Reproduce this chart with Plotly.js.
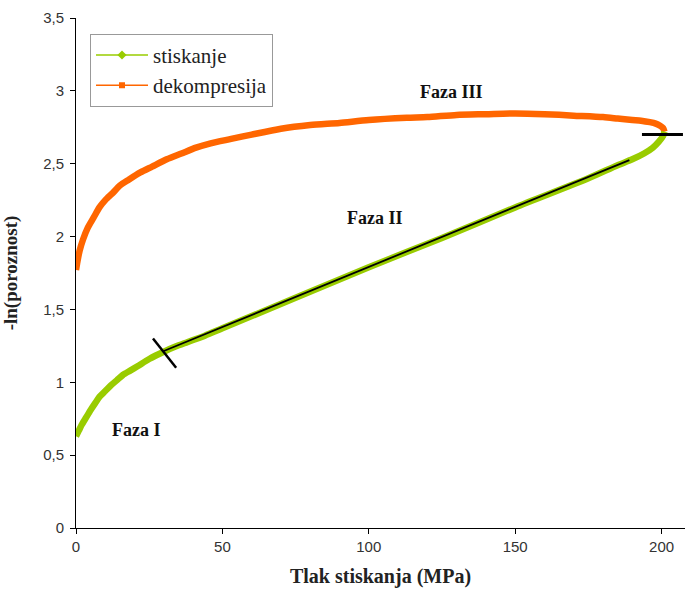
<!DOCTYPE html>
<html>
<head>
<meta charset="utf-8">
<script src="https://cdn.plot.ly/plotly-3.0.1.min.js"></script>
<style>html,body{margin:0;padding:0;background:#fff;}#chart{width:685px;height:590px;}</style>
</head>
<body>
<div id="chart"></div>
<script>
// Compression (stiskanje) curve
var compX = [0, 1, 2, 3.5, 5, 6.5, 8, 10, 12, 14, 16, 18.5, 21, 25, 30, 34, 38, 44, 50, 75, 100, 125, 150, 175, 185, 190, 194, 197, 199, 200.5, 201];
var compY = [0.63, 0.67, 0.71, 0.76, 0.81, 0.855, 0.90, 0.94, 0.98, 1.015, 1.05, 1.08, 1.11, 1.16, 1.21, 1.245, 1.275, 1.32, 1.37, 1.58, 1.79, 1.99, 2.20, 2.40, 2.49, 2.53, 2.57, 2.61, 2.65, 2.69, 2.72];
// Decompression (dekompresija) curve
var decX = [201, 200.5, 199.5, 198, 196, 193, 190, 185, 180, 170, 160, 150, 140, 130, 120, 113, 100, 90, 80, 70, 60, 53, 46, 41, 36, 31, 26, 22, 18, 15, 12.6, 10, 8, 6, 4, 2.4, 1.2, 0.5, 0];
var decY = [2.72, 2.745, 2.76, 2.775, 2.785, 2.795, 2.80, 2.81, 2.82, 2.83, 2.84, 2.845, 2.84, 2.835, 2.82, 2.815, 2.80, 2.78, 2.765, 2.74, 2.70, 2.67, 2.64, 2.61, 2.57, 2.53, 2.48, 2.44, 2.39, 2.35, 2.30, 2.25, 2.20, 2.13, 2.06, 1.98, 1.90, 1.83, 1.77];
// Linear fit of phase II
var fitX = [30, 189];
var fitY = [1.215, 2.525];
// Phase boundary marks
var markIX = [26.3, 34.2];
var markIY = [1.30, 1.10];
var markIIX = [193.3, 207.3];
var markIIY = [2.70, 2.70];
// Phase labels
var phaseText = ['Faza I', 'Faza II', 'Faza III'];
var phaseX = [20.8, 102, 128.4];
var phaseY = [0.67, 2.13, 2.99];
var seriesNames = ['stiskanje', 'dekompresija'];
var xTicks = [0, 50, 100, 150, 200];
var yTicks = [0, 0.5, 1, 1.5, 2, 2.5, 3, 3.5];

var green = '#99cc00', orange = '#ff6600';
var serif = '"Liberation Serif", "Times New Roman", Times, serif';
var sans = '"Liberation Sans", Arial, sans-serif';
var traces = [
  {x: decX, y: decY, mode: 'lines', line: {color: orange, width: 6.5, shape: 'spline', smoothing: 0.7}, showlegend: false, hoverinfo: 'skip'},
  {x: compX, y: compY, mode: 'lines', line: {color: green, width: 6.5, shape: 'spline', smoothing: 0.7}, showlegend: false, hoverinfo: 'skip'},
  {x: fitX, y: fitY, mode: 'lines', line: {color: '#000', width: 1.8}, showlegend: false},
  {x: markIX, y: markIY, mode: 'lines', line: {color: '#000', width: 2.5}, showlegend: false},
  {x: markIIX, y: markIIY, mode: 'lines', line: {color: '#000', width: 3}, showlegend: false},
  {x: [null], y: [null], name: seriesNames[0], mode: 'lines+markers', line: {color: green, width: 1.5}, marker: {symbol: 'diamond', size: 7, color: green}},
  {x: [null], y: [null], name: seriesNames[1], mode: 'lines+markers', line: {color: orange, width: 1.5}, marker: {symbol: 'square', size: 6, color: orange}}
];

var annotations = phaseText.map(function(t, i){
  return {x: phaseX[i], y: phaseY[i], text: '<b>' + t + '</b>', showarrow: false,
    font: {family: serif, size: 18, color: '#111'}};
});

var layout = {
  width: 685, height: 590,
  margin: {l: 76, r: 0, t: 18, b: 62},
  paper_bgcolor: '#fff', plot_bgcolor: '#fff',
  separators: ',.',
  showlegend: true,
  legend: {x: 0.023, y: 0.969, xanchor: 'left', yanchor: 'top', bgcolor: '#fff', bordercolor: '#999', borderwidth: 1,
    itemwidth: 52, font: {family: serif, size: 21, color: '#222'}, tracegroupgap: 0},
  xaxis: {range: [0, 208], tickvals: xTicks, showgrid: false, zeroline: false, showline: true, linecolor: '#000', linewidth: 1,
    ticks: 'outside', ticklen: 5, tickcolor: '#000', tickfont: {family: sans, size: 15, color: '#333'},
    title: {text: '<b>Tlak stiskanja (MPa)</b>', standoff: 14, font: {family: serif, size: 20, color: '#222'}}},
  yaxis: {range: [0, 3.5], tickvals: yTicks, showgrid: false, zeroline: false, showline: true, linecolor: '#000', linewidth: 1,
    ticks: 'outside', ticklen: 5, tickcolor: '#000', ticklabelstandoff: 3, tickfont: {family: sans, size: 15, color: '#333'},
    title: {text: '<b>-ln(poroznost)</b>', standoff: 22, font: {family: serif, size: 19, color: '#222'}}},
  annotations: annotations
};
Plotly.newPlot('chart', traces, layout, {displayModeBar: false, staticPlot: true});
</script>
</body>
</html>
